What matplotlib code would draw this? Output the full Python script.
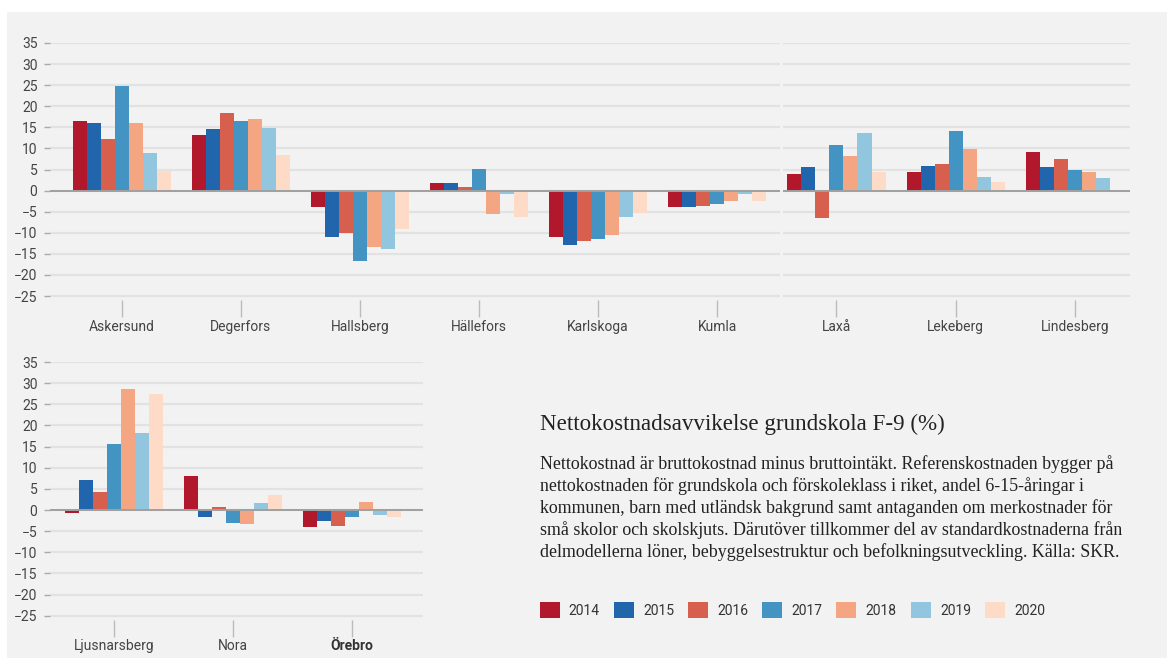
import matplotlib.pyplot as plt
from matplotlib.patches import Rectangle
import numpy as np

# data (%)
years = ['2014', '2015', '2016', '2017', '2018', '2019', '2020']
colors = ['#b2182b', '#2166ac', '#d6604d', '#4393c3', '#f4a582', '#92c5de', '#fddbc7']

kommuner_a = ['Askersund', 'Degerfors', 'Hallsberg', 'Hällefors', 'Karlskoga', 'Kumla']
values_a = [
    [16.6, 16.1, 12.2, 24.8, 16.0, 8.9, 4.6],
    [13.2, 14.7, 18.3, 16.4, 17.0, 14.9, 8.4],
    [-3.9, -11.1, -10.1, -16.7, -13.4, -13.8, -9.2],
    [1.8, 1.9, 0.8, 5.1, -5.6, -0.9, -6.2],
    [-11.1, -13.0, -12.0, -11.4, -10.6, -6.2, -5.2],
    [-3.9, -3.8, -3.6, -3.2, -2.4, -0.9, -2.5],
]

kommuner_b = ['Laxå', 'Lekeberg', 'Lindesberg']
values_b = [
    [4.0, 5.6, -6.6, 10.8, 8.3, 13.6, 4.3],
    [4.5, 5.8, 6.4, 14.2, 9.8, 3.2, 2.1],
    [9.1, 5.6, 7.4, 4.8, 4.4, 3.1, np.nan],
]

kommuner_c = ['Ljusnarsberg', 'Nora', 'Örebro']
values_c = [
    [-0.7, 7.1, 4.2, 15.6, 28.7, 18.1, 27.4],
    [8.1, -1.7, 0.6, -3.0, -3.2, 1.7, 3.6],
    [-3.9, -2.5, -3.7, -1.6, 1.8, -1.1, -1.6],
]

yticks = list(range(-25, 40, 5))

title = 'Nettokostnadsavvikelse grundskola F-9 (%)'
body_lines = [
    'Nettokostnad är bruttokostnad minus bruttointäkt. Referenskostnaden bygger på',
    'nettokostnaden för grundskola och förskoleklass i riket, andel 6-15-åringar i',
    'kommunen, barn med utländsk bakgrund samt antaganden om merkostnader för',
    'små skolor och skolskjuts. Därutöver tillkommer del av standardkostnaderna från',
    'delmodellerna löner, bebyggelsestruktur och befolkningsutveckling. Källa: SKR.',
]

W, H = 1167, 662
BG = '#f2f2f2'
TXT = '#444444'
SANS = ['Roboto', 'DejaVu Sans']
SERIF = ['Liberation Serif', 'DejaVu Serif']

plt.rcParams['font.family'] = SANS

fig = plt.figure(figsize=(W / 100, H / 100), dpi=100, facecolor='white')
fig.patches.append(Rectangle((7 / W, 4 / H), 1 - 7 / W, (H - 16) / H,
                             transform=fig.transFigure, facecolor=BG,
                             edgecolor='none', zorder=-10))


def px_axes(x0, x1, ytop, ybot):
    return fig.add_axes([x0 / W, 1 - ybot / H, (x1 - x0) / W, (ybot - ytop) / H])


def draw_panel(ax, names, vals, xlim, show_y, bold=()):
    ax.set_facecolor('none')
    n = len(names)
    x = np.arange(n)
    w = 0.1176
    vals = np.array(vals)
    for i, (yr, c) in enumerate(zip(years, colors)):
        ax.bar(x + (i - 3) * w, vals[:, i], width=w, color=c, zorder=3,
               linewidth=0)
    ax.set_xlim(*xlim)
    ax.set_ylim(-26, 35)
    ax.set_yticks(yticks)
    for t in yticks:
        ax.axhline(t, color='#e2e2e2', lw=1.6, zorder=1)
    ax.axhline(0, color='#a0a0a0', lw=1.4, zorder=4)
    for s in ax.spines.values():
        s.set_visible(False)
    ax.set_xticks(x)
    ax.set_xticklabels(names, fontsize=10, color=TXT)
    ax.tick_params(axis='x', length=12, width=1, color='#bbbbbb', pad=2)
    if show_y:
        ax.tick_params(axis='y', length=4, width=1, color='#aaaaaa',
                       labelsize=10, labelcolor=TXT, pad=5)
    else:
        ax.tick_params(axis='y', left=False, labelleft=False)
    for lab in ax.get_xticklabels():
        if lab.get_text() in bold:
            lab.set_fontweight('bold')
            lab.set_color('#333333')


ax1 = px_axes(50, 780, 43, 300.3)
draw_panel(ax1, kommuner_a, values_a, (-0.602, 5.527), True)

ax2 = px_axes(783, 1130, 43, 300.3)
draw_panel(ax2, kommuner_b, values_b, (-0.449, 2.464), False)

ax3 = px_axes(50, 423, 362, 620)
draw_panel(ax3, kommuner_c, values_c, (-0.538, 2.597), True, bold=('Örebro',))

# description block
fig.text(540 / W, 1 - 424 / H, title, family=SERIF, fontsize=16.6,
         color='#222222', va='center', ha='left')
for k, line in enumerate(body_lines):
    fig.text(540 / W, 1 - (464 + k * 21.9) / H, line, family=SERIF,
             fontsize=12.9, color='#222222', va='center', ha='left')

handles = [Rectangle((0, 0), 1, 1, facecolor=c, edgecolor='none') for c in colors]
fig.legend(handles, years, loc='center left', ncol=7, frameon=False,
           bbox_to_anchor=(527 / W, 1 - 610 / H), fontsize=10,
           handlelength=1.44, handleheight=1.44, handletextpad=0.67,
           columnspacing=1.0, labelcolor='#333333')

fig.savefig('out.png', dpi=100, facecolor='white')
